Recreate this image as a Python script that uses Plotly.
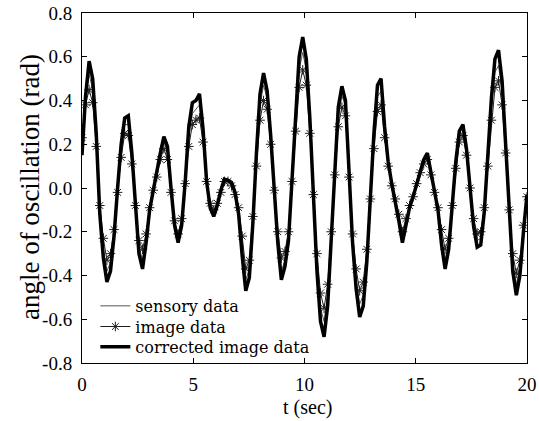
import plotly.graph_objects as go

# sample times (s)
t = [round(0.16 * i, 2) for i in range(126)]

sensory = [0.20, 0.40, 0.52, 0.45, 0.22, -0.10, -0.28, -0.38, -0.34, -0.20,
           -0.01, 0.17, 0.29, 0.29, 0.14, -0.08, -0.27, -0.33, -0.23, -0.10,
           -0.01, 0.05, 0.15, 0.21, 0.17, -0.01, -0.16, -0.23, -0.16, 0.02,
           0.24, 0.34, 0.36, 0.38, 0.24, 0.02, -0.08, -0.12, -0.08, -0.02,
           0.03, 0.03, 0.02, -0.02, -0.10, -0.27, -0.42, -0.37, -0.15, 0.13,
           0.38, 0.47, 0.41, 0.22, -0.01, -0.23, -0.38, -0.33, -0.22, 0.04,
           0.32, 0.54, 0.62, 0.54, 0.29, -0.03, -0.34, -0.55, -0.61, -0.49,
           -0.22, 0.08, 0.33, 0.42, 0.38, 0.07, -0.23, -0.42, -0.53, -0.49,
           -0.31, -0.05, 0.22, 0.42, 0.44, 0.26, 0.11, 0.02, -0.06, -0.14,
           -0.22, -0.15, -0.09, -0.04, 0.02, 0.07, 0.12, 0.14, 0.07, -0.01,
           -0.09, -0.23, -0.33, -0.25, -0.08, 0.11, 0.23, 0.26, 0.17, 0.00,
           -0.16, -0.24, -0.23, -0.10, 0.12, 0.37, 0.53, 0.56, 0.44, 0.19,
           -0.11, -0.34, -0.44, -0.36, -0.18, -0.03]

image = [0.23, 0.38, 0.45, 0.39, 0.19, -0.08, -0.23, -0.33, -0.30, -0.19,
         -0.02, 0.14, 0.25, 0.24, 0.11, -0.08, -0.24, -0.28, -0.21, -0.09,
         -0.01, 0.05, 0.13, 0.18, 0.13, -0.02, -0.15, -0.21, -0.14, 0.02,
         0.19, 0.29, 0.31, 0.32, 0.21, 0.03, -0.07, -0.10, -0.07, -0.02,
         0.03, 0.03, 0.01, -0.03, -0.09, -0.22, -0.37, -0.33, -0.13, 0.10,
         0.31, 0.40, 0.36, 0.20, -0.01, -0.20, -0.32, -0.29, -0.20, 0.03,
         0.26, 0.46, 0.54, 0.47, 0.25, -0.03, -0.30, -0.48, -0.55, -0.44,
         -0.20, 0.06, 0.28, 0.37, 0.33, 0.05, -0.21, -0.37, -0.47, -0.43,
         -0.28, -0.05, 0.18, 0.35, 0.38, 0.23, 0.10, 0.01, -0.05, -0.12,
         -0.20, -0.14, -0.08, -0.04, 0.02, 0.07, 0.11, 0.13, 0.06, -0.02,
         -0.09, -0.19, -0.28, -0.23, -0.08, 0.09, 0.21, 0.24, 0.15, 0.00,
         -0.14, -0.21, -0.20, -0.09, 0.10, 0.31, 0.46, 0.49, 0.38, 0.16,
         -0.10, -0.30, -0.39, -0.33, -0.17, -0.04]

corrected = [0.15, 0.42, 0.58, 0.50, 0.25, -0.12, -0.32, -0.43, -0.38, -0.22,
             0.00, 0.20, 0.32, 0.33, 0.16, -0.08, -0.30, -0.37, -0.25, -0.10,
             -0.01, 0.06, 0.16, 0.235, 0.19, 0.00, -0.17, -0.25, -0.17, 0.03,
             0.28, 0.39, 0.40, 0.43, 0.27, 0.03, -0.09, -0.13, -0.08, -0.01,
             0.04, 0.035, 0.025, -0.02, -0.12, -0.31, -0.47, -0.41, -0.16, 0.16,
             0.43, 0.525, 0.445, 0.24, -0.01, -0.25, -0.42, -0.36, -0.24, 0.05,
             0.36, 0.60, 0.69, 0.59, 0.32, -0.03, -0.38, -0.61, -0.68, -0.54,
             -0.24, 0.10, 0.37, 0.465, 0.40, 0.08, -0.25, -0.46, -0.59, -0.54,
             -0.34, -0.045, 0.25, 0.47, 0.50, 0.28, 0.12, 0.02, -0.06, -0.15,
             -0.25, -0.16, -0.09, -0.04, 0.02, 0.08, 0.13, 0.16, 0.07, -0.01,
             -0.10, -0.26, -0.37, -0.28, -0.09, 0.12, 0.26, 0.29, 0.18, 0.00,
             -0.175, -0.27, -0.26, -0.11, 0.14, 0.41, 0.59, 0.63, 0.49, 0.21,
             -0.12, -0.38, -0.49, -0.40, -0.20, -0.03]

x_ticks = [0, 5, 10, 15, 20]
x_labels = ["0", "5", "10", "15", "20"]
y_ticks = [-0.8, -0.6, -0.4, -0.2, 0.0, 0.2, 0.4, 0.6, 0.8]
y_labels = ["-0.8", "-0.6", "-0.4", "-0.2", "0.0", "0.2", "0.4", "0.6", "0.8"]

FONT = "Liberation Serif"
LEG_FONT = "DejaVu Serif"

fig = go.Figure()
fig.add_trace(go.Scatter(x=t, y=sensory, mode="lines", name="sensory data",
                         line=dict(color="#555555", width=1), legend="legend"))
fig.add_trace(go.Scatter(x=t, y=image, mode="lines+markers", name="image data",
                         line=dict(color="#202020", width=1),
                         marker=dict(symbol="asterisk-open", size=8,
                                     line=dict(color="#202020", width=1)),
                         legend="legend2"))
fig.add_trace(go.Scatter(x=t, y=corrected, mode="lines", name="corrected image data",
                         line=dict(color="black", width=3.5), legend="legend3"))

axis_common = dict(showline=True, linecolor="black", linewidth=1, mirror="ticks",
                   ticks="inside", ticklen=5, tickcolor="black", showgrid=False,
                   zeroline=False, automargin=False,
                   tickfont=dict(family=FONT, size=19, color="black"))

def leg(y):
    return dict(x=0.03, y=y, xanchor="left", yanchor="middle",
                bgcolor="rgba(0,0,0,0)", borderwidth=0,
                font=dict(family=LEG_FONT, size=16, color="black"))

fig.update_layout(
    template="none",
    width=539, height=421,
    margin=dict(l=82, r=12, t=13, b=58, autoexpand=False),
    paper_bgcolor="white", plot_bgcolor="white",
    showlegend=True,
    legend=leg(0.163),
    legend2=leg(0.104),
    legend3=leg(0.046),
    xaxis=dict(range=[0, 20], tickvals=x_ticks, ticktext=x_labels, **axis_common),
    yaxis=dict(range=[-0.8, 0.8], tickvals=y_ticks, ticktext=y_labels, **axis_common),
    annotations=[
        dict(text="t (sec)", xref="paper", yref="paper", x=0.507, y=-0.127,
             xanchor="center", yanchor="middle", showarrow=False,
             font=dict(family=FONT, size=20, color="black")),
        dict(text="angle of oscillation (rad)", xref="paper", yref="paper",
             x=-0.118, y=0.504, xanchor="center", yanchor="middle", textangle=-90,
             showarrow=False, font=dict(family=FONT, size=27, color="black")),
    ],
)
fig.update_xaxes(ticklabelstandoff=4)
fig.update_yaxes(ticklabelstandoff=5)

fig.write_html("out.html", config={"displayModeBar": False},
               post_script="document.body.style.margin='0';")
